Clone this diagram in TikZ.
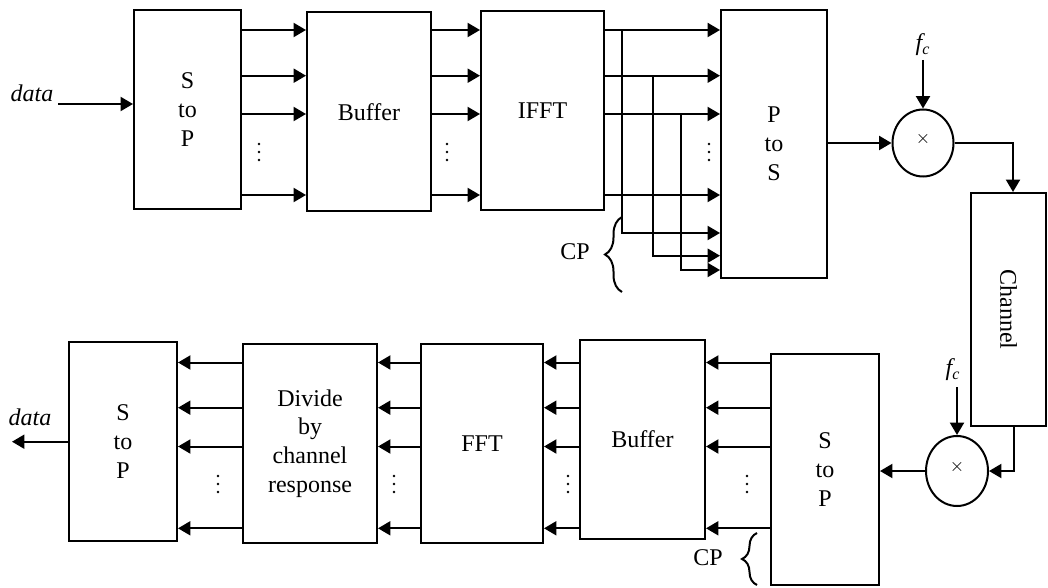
\documentclass[tikz,border=0pt]{standalone}
\usepackage{fontspec}
\setmainfont{Liberation Serif}
\usetikzlibrary{arrows.meta,shapes.geometric,decorations.pathreplacing}
\begin{document}
\begin{tikzpicture}[x=0.5pt,y=-0.5pt,
  font=\fontsize{12}{14.4}\selectfont,
  box/.style={draw,line width=1pt,rectangle,inner sep=0pt,align=center},
  mixer/.style={draw,ellipse,line width=1pt,inner sep=0pt},
  conn/.style={line width=1pt,-{Triangle[length=6.2pt,width=7pt]}},
  wire/.style={line width=1pt},
  cpbrace/.style={line width=1pt,decorate,decoration={brace,amplitude=#1}}]
\useasboundingbox (0,0) rectangle (1048,588);
% top row
\node[box,minimum width=53.5pt,minimum height=99.5pt] (sp1) at (187.5,109.5) {S\\to\\P};
\node[box,minimum width=62pt,minimum height=99.25pt] (buf1) at (369,111.75) {Buffer};
\node[box,minimum width=61.5pt,minimum height=99.25pt] (ifft) at (542.5,110.75) {IFFT};
\node[box,minimum width=53pt,minimum height=134pt] (ps) at (774,144) {P\\to\\S};
\node[mixer,minimum width=30.5pt,minimum height=33.5pt] (mx1) at (923,143) {};
\node[inner sep=0pt] (x1) at (923,139) {\fontsize{9}{9}\selectfont$\times$};
\node[box,minimum width=37.5pt,minimum height=116.5pt] (ch) at (1008.5,309.5) {};
\node[rotate=-90] (cht) at (ch.center) {Channel};
% bottom row
\node[mixer,minimum width=31pt,minimum height=35pt] (mx2) at (957,471) {};
\node[inner sep=0pt] (x2) at (957,467) {\fontsize{9}{9}\selectfont$\times$};
\node[box,minimum width=54pt,minimum height=115.5pt] (sp2) at (825,469.5) {S\\to\\P};
\node[box,minimum width=62.5pt,minimum height=99.5pt] (buf2) at (642.5,439.5) {Buffer};
\node[box,minimum width=61pt,minimum height=99.5pt] (fft) at (482,443.5) {FFT};
\node[box,minimum width=67pt,minimum height=99.5pt] (div) at (310,443.5) {Divide\\by\\channel\\response};
\node[box,minimum width=54pt,minimum height=99.5pt] (sp3) at (123,441.5) {S\\to\\P};
% labels
\node (din) at (32,93) {\itshape data};
\coordinate (dinS) at (58,104);
\node (dout) at (30,417) {\itshape data};
\coordinate (doutE) at (12,441.7);
\node (fc1) at (923,45) {\itshape f\textsubscript{c}};
\coordinate (fc1s) at (923,60);
\node (fc2) at (953,370) {\itshape f\textsubscript{c}};
\coordinate (fc2s) at (957,387);
\node (cp1) at (575,252) {CP};
\node (cp2) at (708,558) {CP};
% dots
\foreach \x in {259,447,709}{\foreach \d in {-8,0,8}{\fill (\x,152+\d) circle[radius=1.3];}}
\foreach \x in {747,568,394,218}{\foreach \d in {-8,0,8}{\fill (\x,484+\d) circle[radius=1.3];}}
% top connectors
\draw[conn] (dinS) -- (sp1.west |- dinS);
\foreach \y in {30,75.7,114,195}{
  \draw[conn] (sp1.east |- 0,\y) -- (buf1.west |- 0,\y);
  \draw[conn] (buf1.east |- 0,\y) -- (ifft.west |- 0,\y);
  \draw[conn] (ifft.east |- 0,\y) -- (ps.west |- 0,\y);
}
\coordinate (j1) at (622,30);
\coordinate (j2) at (653,75.7);
\coordinate (j3) at (681,114);
\draw[conn] (j1) |- (ps.west |- 0,233);
\draw[conn] (j2) |- (ps.west |- 0,255.7);
\draw[conn] (j3) |- (ps.west |- 0,270);
\draw[cpbrace=8.5pt] (622,292) -- (622,217);
\draw[conn] (ps.east |- mx1) -- (mx1);
\draw[conn] (fc1s) -- (mx1);
\draw[conn] (mx1.east) -| (ch.north -| 1013,0);
% bottom connectors
\draw[conn] (ch.south -| 1014,0) |- (mx2.east);
\draw[conn] (fc2s) -- (mx2);
\draw[conn] (mx2.west) -- (sp2.east |- mx2.west);
\foreach \y in {362.5,407.7,446.5,528.3}{
  \draw[conn] (sp2.west |- 0,\y) -- (buf2.east |- 0,\y);
  \draw[conn] (buf2.west |- 0,\y) -- (fft.east |- 0,\y);
  \draw[conn] (fft.west |- 0,\y) -- (div.east |- 0,\y);
  \draw[conn] (div.west |- 0,\y) -- (sp3.east |- 0,\y);
}
\draw[conn] (sp3.west |- doutE) -- (doutE);
\draw[cpbrace=7.5pt] (757,585) -- (757,533);
\end{tikzpicture}
\end{document}
